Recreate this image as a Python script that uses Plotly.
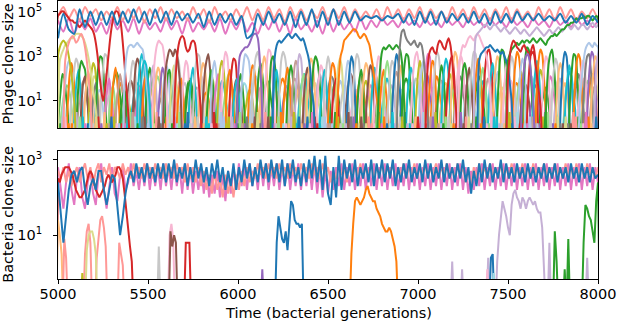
import numpy as np
import plotly.graph_objects as go

# ---------------- palette (matplotlib tab20) ----------------
PAL = ["#1f77b4", "#aec7e8", "#ff7f0e", "#ffbb78", "#2ca02c", "#98df8a",
       "#d62728", "#ff9896", "#9467bd", "#c5b0d5", "#8c564b", "#c49c94",
       "#e377c2", "#f7b6d2", "#7f7f7f", "#c7c7c7", "#bcbd22", "#dbdb8d",
       "#17becf", "#9edae5"]

# All clone sizes below are stored as 10*log10(size); sampled evenly 5000..8000
T0, T1 = 5000, 8000
STEP = 10          # sampling step (generations) for transient clones
ZERO = 1e-1        # extinct clone (log axis -> drawn below the frame)

# ---------------- phage panel: dominant clones ----------------
phage_blue = [38, 49, 42, 40, 51, 43, 50, 44, 50, 44, 50, 44, 50, 45, 51, 45, 50, 44, 51, 45,
              50, 44, 50, 46, 49, 45, 49, 43, 50, 44, 49, 45, 49, 44, 48, 38, 40, 49, 44, 50,
              45, 49, 44, 50, 43, 50, 44, 51, 43, 50, 44, 51, 44, 50, 45, 50, 46, 48, 47, 48,
              46, 48, 47, 49, 45, 49, 44, 50, 45, 50, 44, 50, 45, 49, 46, 49, 45, 50, 45, 49,
              44, 50, 45, 49, 45, 50, 46, 49, 46, 49, 46, 48, 46, 49, 45, 48, 45, 49, 44, 48, 45]
phage_salmon = [48, 52, 47, 51, 46, 52, 48, 51, 46, 50, 47, 52, 46, 51, 47, 52, 45, 51, 47, 52,
                46, 51, 47, 50, 46, 52, 47, 51, 45, 52, 47, 50, 46, 51, 47, 52, 46, 51, 46, 52,
                47, 51, 45, 52, 47, 51, 46, 50, 47, 52, 46, 51, 47, 52, 46, 51, 47, 50, 47, 51,
                46, 52, 47, 51, 46, 51, 47, 52, 46, 51, 47, 50, 46, 52, 47, 51, 46, 52, 47, 51,
                46, 51, 47, 52, 46, 51, 47, 50, 46, 52, 47, 51, 46, 52, 47, 51, 46, 50, 47, 51, 46]
phage_pink = [46, 41, 47, 40, 46, 42, 47, 41, 45, 40, 47, 42, 46, 41, 47, 40, 46, 42, 45, 41,
              47, 42, 46, 40, 47, 41, 45, 42, 46, 41, 47, 40, 46, 42, 47, 41, 45, 40, 46, 42,
              47, 41, 46, 40, 47, 42, 45, 41, 46, 40, 47, 41, 46, 42, 45, 41, 47, 42, 46, 43,
              47, 44, 46, 43, 47, 44, 46, 43, 47, 44, 46, 43, 47, 44, 46, 43, 47, 44, 46, 43,
              47, 44, 46, 43, 47, 44, 46, 43, 47, 44, 46, 43, 47, 44, 46, 43, 47, 44, 46, 43, 46]

# ---------------- phage panel: large transient clones ----------------
phage_big_start = [5000, 5010, 5000, 5040, 5370, 5530, 5590, 5650, 6000, 6200, 6550, 6780,
                   6890, 7050, 7230, 7320, 7340, 7500, 7500, 7900, 5460, 7580]
phage_big_color = [6, 17, 16, 7, 1, 13, 10, 6, 8, 0, 2, 4, 14, 6, 13, 9, 0, 4, 6, 1, 18, 8]
phage_big_vals = [
    [48, 49, 50, 50, 49, 48, 47, 46, 46, 45, 45, 44, 43, 44, 45, 46, 45, 44, 43, 42,
     40, 36, 30, 22, 15, 10, 14, 22, 30, 38, 44, 48, 50, 50, 48, 44, 36, 26, 15, 5],
    [28, 31, 33, 35, 36, 37, 38, 38, 39, 40, 40, 40, 39, 38, 36, 33, 29, 24, 18, 12, 6],
    [30, 34, 36, 37, 36, 34, 30, 25, 18, 10],
    [28, 33, 36, 38, 39, 38, 36, 37, 39, 40, 38, 34, 28, 20, 10],
    [20, 30, 34, 35, 35, 34, 35, 36, 35, 34, 33, 28, 20, 10],
    [20, 30, 35, 37, 36, 35, 30, 20],
    [15, 25, 30, 33, 32, 30, 33, 31, 25, 15],
    [15, 28, 35, 38, 39, 38, 34, 32, 33, 36, 37, 36, 30, 20, 10],
    [20, 30, 32, 33, 34, 34, 35, 37, 39, 40, 40, 38, 30, 15],
    [25, 33, 36, 37, 36, 37, 38, 39, 40, 39, 38, 39, 40, 39, 38, 37, 38, 36, 33, 30, 25, 15, 8],
    [5, 20, 30, 33, 37, 38, 39, 40, 41, 42, 42, 41, 39, 38, 39, 40, 39, 37, 35, 30, 25, 18, 12, 5],
    [10, 25, 32, 34, 33, 34, 35, 34, 33, 34, 35, 34, 33, 28, 15],
    [20, 35, 41, 42, 39, 37, 36, 35, 36, 37, 35, 34, 36, 35, 30, 20, 10],
    [20, 30, 33, 34, 32, 31, 35, 37, 36, 34, 33, 36, 38, 35, 28, 18, 8],
    [25, 32, 35, 34, 36, 38, 39, 38, 37, 39, 40, 39, 37, 35, 33, 30, 25, 15],
    [38, 40, 41, 42, 43, 44, 44, 43, 42, 43, 44, 44, 43, 42, 41, 42, 43, 42, 41, 40,
     41, 42, 43, 42, 41, 40, 41, 42, 41, 40, 39, 40, 41, 42, 43, 42, 41, 40, 39, 40,
     41, 42, 41, 40, 41, 42, 43, 42, 41, 42, 43, 44, 43, 42, 43, 44, 43, 42, 43, 44,
     44, 43, 42, 43, 44, 45, 44, 43, 44],
    [28, 31, 32, 33, 34, 34, 35, 34, 33, 32, 33, 32, 31, 32, 30, 28, 25, 18, 10],
    [28, 31, 33, 34, 35, 36, 35, 36, 37, 36, 37, 37, 36, 37, 38, 37, 36, 37, 38, 37,
     36, 35, 37, 38, 39, 39, 40, 39, 40, 41, 42, 42, 43, 44, 44, 45, 45, 46, 47, 46,
     47, 47, 48, 47, 48, 48, 47, 46, 47, 48, 47],
    [20, 30, 35, 37, 36, 34, 33, 32, 34, 35, 33, 32, 30, 31, 32, 28, 22, 15, 8],
    [10, 20, 28, 33, 35, 36, 35, 34, 36, 35, 34],
    [15, 25, 28, 26, 18, 8],
    [15, 25, 30, 31, 28, 20, 10],
]

# ---------------- phage panel: short-lived clones (tall) ----------------
spike_start = [5005, 5030, 5055, 5070, 5095, 5110, 5130, 5150, 5175, 5190, 5215, 5240, 5265,
               5285, 5300, 5325, 5350, 5395, 5420, 5445, 5470, 5490, 5510, 5535, 5560, 5580,
               5600, 5625, 5640, 5665, 5690, 5710, 5730, 5755, 5785, 5805, 5830, 5850, 5870,
               5890, 5910, 5935, 5955, 5975, 5995, 6020, 6060, 6080, 6105, 6125, 6150, 6175,
               6195, 6230, 6255, 6275, 6300, 6320, 6345, 6365, 6385, 6410, 6440, 6460, 6480,
               6505, 6525, 6545, 6590, 6610, 6640, 6665, 6690, 6715, 6740, 6760, 6790, 6810,
               6835, 6860, 6885, 6915, 6940, 6965, 6990, 7010, 7035, 7060, 7085, 7110, 7135,
               7160, 7185, 7210, 7240, 7265, 7290, 7315, 7340, 7365, 7395, 7420, 7445, 7475,
               7500, 7530, 7560, 7585, 7610, 7640, 7660, 7690, 7715, 7745, 7770, 7795, 7820,
               7845, 7870, 7895, 7920, 7945, 7965, 7985]
spike_color = [4, 1, 2, 15, 18, 4, 10, 3, 16, 14, 4, 15, 12, 5, 2, 11, 4, 15, 10, 18, 2, 4, 9,
               3, 8, 1, 4, 17, 15, 2, 13, 4, 18, 15, 3, 10, 4, 1, 12, 16, 13, 2, 6, 18, 4, 1, 2,
               15, 4, 3, 13, 4, 18, 15, 2, 4, 11, 9, 5, 10, 3, 4, 13, 18, 15, 2, 6, 17, 1, 0,
               15, 4, 3, 10, 18, 13, 2, 5, 15, 0, 3, 4, 18, 13, 16, 1, 12, 2, 15, 4, 18, 6, 3,
               13, 4, 10, 15, 2, 5, 6, 18, 3, 4, 13, 15, 2, 1, 4, 6, 18, 2, 13, 4, 15, 3, 0, 18,
               4, 2, 13, 14, 8, 3, 9]
spike_vals = [
    [5, 15, 22, 20, 12, 4], [8, 18, 25, 28, 26, 20, 10], [10, 22, 27, 22, 10],
    [6, 16, 24, 29, 27, 18, 6], [10, 20, 24, 15, 5], [12, 24, 28, 26, 24, 14, 4],
    [8, 18, 21, 13, 3], [10, 19, 23, 17, 8], [10, 22, 27, 25, 16, 6], [6, 14, 18, 10],
    [15, 26, 30, 29, 18, 5], [12, 24, 31, 30, 22, 10], [8, 16, 20, 12, 4], [6, 13, 17, 11],
    [10, 20, 25, 18, 6], [8, 16, 22, 17, 7], [6, 12, 15, 8], [10, 22, 28, 26, 16, 5],
    [12, 24, 29, 27, 20, 8], [15, 26, 31, 28, 15], [8, 18, 22, 14], [10, 20, 25, 20, 9],
    [12, 22, 26, 20, 8], [10, 20, 25, 23, 12], [8, 18, 25, 22, 10], [10, 20, 26, 24, 14],
    [12, 22, 24, 15, 5], [10, 22, 26, 20, 8], [12, 24, 30, 28, 20, 8], [8, 16, 20, 12],
    [10, 22, 28, 26, 14], [6, 14, 19, 15, 6], [10, 20, 25, 18, 6], [14, 26, 31, 30, 22, 10],
    [12, 22, 27, 25, 16, 6], [10, 22, 28, 31, 24, 10], [8, 18, 24, 18, 6], [12, 24, 28, 22, 10],
    [10, 18, 22, 15, 4], [12, 24, 28, 24, 12], [14, 26, 32, 30, 20, 8], [10, 20, 24, 18, 8],
    [12, 24, 29, 28, 18, 6], [8, 16, 20, 12], [10, 18, 22, 16, 6], [15, 26, 31, 30, 28, 20, 8],
    [10, 20, 26, 24, 14, 4], [12, 24, 30, 32, 26, 14], [10, 22, 27, 22, 10],
    [12, 24, 30, 27, 16, 5], [14, 26, 33, 32, 22, 10], [16, 28, 30, 26, 12], [10, 20, 24, 16, 6],
    [14, 28, 32, 30, 24, 10], [10, 20, 25, 20, 8], [12, 22, 26, 20, 8], [10, 22, 28, 26, 14],
    [12, 24, 31, 29, 18, 6], [8, 18, 22, 14], [10, 20, 25, 20, 8], [12, 24, 29, 27, 16, 5],
    [14, 26, 30, 28, 22, 10], [10, 20, 26, 24, 12], [8, 18, 24, 18, 6], [12, 24, 30, 26, 12],
    [10, 22, 27, 25, 14], [8, 16, 20, 12], [12, 24, 29, 26, 14], [10, 22, 28, 26, 14],
    [12, 24, 30, 27, 12], [14, 26, 31, 29, 18], [10, 20, 24, 16], [12, 22, 27, 25, 16, 6],
    [10, 20, 26, 24, 10], [8, 20, 25, 18, 6], [12, 24, 30, 28, 18, 6], [10, 20, 24, 16, 6],
    [12, 24, 28, 22, 10], [10, 22, 28, 26, 14], [12, 24, 31, 28, 14], [10, 20, 26, 20, 8],
    [14, 26, 31, 30, 20, 6], [10, 20, 25, 22, 10], [12, 24, 30, 32, 26, 12], [10, 22, 28, 24, 12],
    [12, 24, 28, 22, 10], [14, 26, 31, 30, 18, 6], [10, 22, 28, 26, 12], [12, 26, 32, 30, 20, 8],
    [10, 20, 26, 22, 10], [12, 24, 29, 26, 14], [10, 20, 28, 30, 22, 8], [14, 26, 32, 30, 20],
    [10, 22, 28, 30, 26, 12], [12, 24, 27, 22, 8], [10, 20, 25, 18, 6], [14, 26, 32, 31, 22, 10],
    [12, 24, 29, 24, 10], [10, 20, 25, 20, 8], [14, 26, 32, 33, 28, 14], [10, 22, 27, 20, 8],
    [12, 24, 30, 28, 16], [14, 28, 33, 32, 26, 12], [10, 22, 28, 24, 10], [12, 24, 30, 27, 14],
    [14, 26, 32, 30, 22, 8], [12, 24, 29, 26, 12], [14, 28, 34, 33, 24, 10],
    [12, 26, 33, 35, 30, 16], [10, 22, 28, 24, 10], [14, 28, 33, 31, 20, 6], [12, 24, 30, 28, 14],
    [14, 26, 31, 33, 26, 12], [12, 24, 29, 26, 12], [10, 22, 27, 24, 10], [12, 26, 32, 30, 18],
    [10, 20, 26, 22, 10], [12, 24, 31, 30, 20, 6], [14, 26, 31, 29, 16], [10, 22, 28, 26, 12],
    [12, 24, 30, 31, 24, 10], [14, 26, 32, 30, 20], [12, 24, 30, 28, 16, 6], [16, 28, 33],
]

# ---------------- phage panel: short-lived clones (low) ----------------
low_start = [5018, 5047, 5083, 5112, 5141, 5170, 5203, 5232, 5262, 5293, 5318, 5344, 5376, 5408,
             5433, 5462, 5497, 5523, 5551, 5587, 5613, 5647, 5676, 5703, 5738, 5767, 5796, 5822,
             5856, 5881, 5917, 5944, 5968, 6003, 6035, 6068, 6097, 6133, 6160, 6188, 6218, 6246,
             6283, 6311, 6337, 6372, 6398, 6425, 6453, 6487, 6514, 6538, 6567, 6598, 6626, 6653,
             6681, 6707, 6733, 6768, 6797, 6823, 6851, 6877, 6904, 6932, 6957, 6982, 7018, 7047,
             7073, 7101, 7122, 7148, 7177, 7203, 7228, 7256, 7283, 7308, 7333, 7358, 7387, 7413,
             7438, 7462, 7488, 7516, 7543, 7571, 7598, 7623, 7651, 7678, 7705, 7733, 7758, 7787,
             7813, 7838, 7862, 7888, 7912, 7938, 7958, 7980]
low_color = [5, 19, 3, 11, 9, 17, 1, 13, 15, 4, 2, 16, 10, 18, 12, 8, 3, 5, 14, 19,
             1, 7, 15, 4, 11, 13, 2, 17, 9, 18, 5, 3, 10, 19, 16, 1, 12, 4, 15, 13,
             2, 8, 11, 3, 18, 5, 17, 9, 19, 14, 4, 1, 15, 10, 13, 2, 16, 12, 3, 5,
             18, 9, 11, 19, 4, 17, 15, 1, 8, 13, 2, 10, 3, 16, 5, 14, 12, 19, 9, 4,
             18, 11, 15, 1, 17, 3, 13, 2, 5, 10, 19, 8, 16, 4, 12, 15, 9, 3, 18, 1,
             14, 13, 5, 2, 11, 17]
low_vals = [
    [4, 10, 15, 17, 16, 12, 5], [6, 12, 18, 20, 17, 9], [3, 9, 13, 15, 12, 6],
    [5, 12, 17, 19, 18, 14, 7], [6, 13, 16, 14, 8], [4, 11, 17, 21, 20, 15, 8],
    [5, 10, 14, 15, 11, 4], [6, 14, 19, 22, 19, 12], [4, 9, 12, 13, 10, 5],
    [7, 15, 20, 23, 21, 14, 6], [5, 11, 16, 18, 15, 8], [3, 8, 12, 14, 13, 9, 4],
    [6, 13, 18, 19, 16, 10], [4, 10, 15, 18, 17, 12, 6], [5, 12, 16, 15, 9],
    [6, 14, 20, 22, 18, 11, 4], [4, 9, 13, 16, 14, 8], [5, 12, 18, 21, 19, 13, 6],
    [3, 8, 11, 12, 9, 4], [6, 13, 19, 23, 20, 14, 7], [5, 11, 15, 17, 14, 8],
    [4, 10, 16, 19, 18, 12, 5], [6, 12, 17, 18, 13, 6], [5, 13, 18, 20, 17, 11, 4],
    [4, 9, 14, 16, 15, 10, 5], [6, 14, 19, 21, 18, 10], [3, 9, 13, 14, 11, 6],
    [5, 12, 17, 20, 19, 14, 7], [6, 13, 16, 15, 10, 4], [4, 11, 16, 19, 17, 11, 5],
    [5, 12, 18, 22, 20, 13, 6], [4, 10, 14, 15, 12, 6], [6, 14, 19, 20, 16, 9],
    [5, 11, 16, 18, 17, 12, 5], [3, 8, 13, 15, 13, 7], [6, 13, 18, 21, 19, 12, 5],
    [4, 10, 15, 16, 12, 6], [5, 12, 17, 19, 17, 11, 4], [6, 14, 20, 23, 21, 14, 6],
    [4, 9, 13, 14, 10, 4], [5, 13, 18, 20, 18, 12, 5], [6, 12, 16, 17, 14, 8],
    [4, 11, 17, 20, 19, 13, 6], [5, 10, 14, 16, 13, 7], [6, 14, 19, 22, 20, 12, 5],
    [3, 9, 14, 16, 14, 8], [5, 12, 17, 18, 15, 9, 4], [6, 13, 19, 22, 19, 11],
    [4, 10, 14, 15, 12, 6], [5, 12, 18, 21, 20, 14, 6], [6, 13, 17, 18, 14, 7],
    [4, 11, 16, 19, 17, 10, 4], [5, 12, 16, 17, 13, 6], [6, 14, 20, 22, 19, 12, 5],
    [4, 9, 13, 15, 13, 8], [5, 13, 18, 21, 18, 11, 4], [6, 12, 17, 19, 16, 9],
    [4, 10, 15, 17, 15, 9, 4], [5, 13, 19, 22, 20, 13], [6, 12, 16, 16, 12, 6],
    [4, 11, 17, 20, 18, 12, 5], [5, 10, 15, 17, 14, 7], [6, 14, 20, 23, 20, 13, 6],
    [3, 9, 13, 15, 12, 6], [5, 12, 18, 20, 18, 12, 5], [6, 13, 17, 18, 15, 8],
    [4, 11, 16, 20, 19, 13, 6], [5, 12, 16, 17, 12, 5], [6, 14, 19, 22, 20, 13, 5],
    [4, 10, 14, 16, 14, 8], [5, 13, 18, 21, 19, 12, 4], [6, 12, 17, 19, 15, 8],
    [4, 10, 15, 18, 17, 11, 5], [5, 13, 19, 22, 19, 12], [6, 12, 15, 16, 12, 6],
    [4, 11, 17, 21, 19, 13, 6], [5, 10, 14, 17, 15, 8], [6, 14, 20, 23, 21, 14, 6],
    [3, 9, 14, 15, 12, 6], [5, 12, 18, 21, 19, 12, 5], [6, 13, 17, 19, 16, 9],
    [4, 11, 16, 20, 18, 12, 5], [5, 12, 17, 18, 13, 6], [6, 14, 19, 23, 21, 14, 6],
    [4, 10, 14, 16, 14, 8], [5, 13, 18, 22, 20, 13, 5], [6, 12, 17, 19, 15, 7],
    [4, 10, 15, 18, 17, 11, 4], [5, 13, 19, 23, 20, 12], [6, 12, 16, 17, 13, 6],
    [4, 11, 17, 21, 20, 14, 6], [5, 10, 15, 17, 15, 8], [6, 14, 20, 24, 21, 14, 6],
    [3, 9, 13, 16, 13, 7], [5, 12, 18, 21, 19, 13, 5], [6, 13, 17, 19, 16, 8],
    [4, 11, 17, 20, 18, 12, 5], [5, 12, 16, 18, 14, 6], [6, 14, 20, 23, 21, 13, 6],
    [4, 10, 15, 17, 14, 8], [5, 13, 18, 22, 19, 12, 4], [6, 12, 17, 20, 16, 9],
    [4, 10, 16, 19, 17, 11, 5], [5, 13, 19, 22, 20, 13], [6, 12, 16, 17, 12, 6],
    [4, 11, 16, 20, 18], [5, 12, 17, 19],
]

# single-sample clones of size 1-3 (the coloured band at the bottom)
blip_t = [5012, 5041, 5077, 5103, 5138, 5166, 5197, 5224, 5258, 5281, 5312, 5339, 5371, 5402,
          5428, 5457, 5483, 5516, 5548, 5571, 5603, 5634, 5662, 5689, 5721, 5748, 5776, 5809,
          5838, 5867, 5893, 5921, 5949, 5982, 6011, 6037, 6064, 6093, 6124, 6152, 6183, 6211,
          6238, 6266, 6297, 6325, 6353, 6386, 6412, 6441, 6468, 6497, 6523, 6556, 6583, 6614,
          6642, 6671, 6698, 6727, 6756, 6783, 6812, 6843, 6872, 6898, 6927, 6954, 6986, 7013,
          7042, 7069, 7097, 7128, 7154, 7183, 7212, 7238, 7267, 7296, 7324, 7351, 7382, 7409,
          7437, 7466, 7494, 7521, 7552, 7579, 7607, 7636, 7664, 7693, 7722, 7750, 7777, 7806,
          7834, 7863, 7891, 7918, 7947, 7976,
          5026, 5059, 5090, 5121, 5152, 5181, 5211, 5241, 5270, 5297, 5326, 5355, 5387, 5415,
          5443, 5470, 5500, 5532, 5560, 5588, 5618, 5648, 5676, 5705, 5735, 5762, 5793, 5824,
          5853, 5880, 5907, 5935, 5966, 5997, 6024, 6050, 6079, 6109, 6138, 6168, 6197, 6225,
          6252, 6282, 6311, 6339, 6370, 6399, 6427, 6455, 6483, 6510, 6540, 6570, 6599, 6628,
          6657, 6685, 6712, 6742, 6770, 6798, 6828, 6858, 6885, 6913, 6941, 6970, 7000, 7028,
          7056, 7083, 7113, 7141, 7169, 7198, 7225, 7253, 7282, 7310, 7338, 7367, 7396, 7423,
          7452, 7480, 7508, 7537, 7566, 7593, 7622, 7650, 7679, 7708, 7736, 7764, 7792, 7820,
          7849, 7877, 7905, 7933, 7962, 7990]
blip_c = [4, 13, 2, 9, 18, 0, 15, 6, 3, 11, 16, 1, 12, 5, 19, 8, 10, 17, 7, 14,
          2, 4, 19, 13, 0, 9, 15, 3, 18, 6, 11, 1, 16, 12, 5, 8, 17, 10, 14, 7,
          4, 15, 2, 13, 9, 18, 3, 0, 12, 6, 19, 11, 1, 16, 5, 10, 8, 17, 14, 7,
          13, 4, 2, 19, 9, 15, 0, 18, 3, 12, 6, 11, 16, 1, 5, 17, 10, 8, 7, 14,
          4, 2, 13, 9, 18, 15, 3, 0, 19, 6, 12, 11, 1, 16, 5, 8, 17, 10, 14, 7,
          4, 13, 2, 9,
          9, 2, 15, 5, 12, 19, 3, 8, 16, 0, 13, 6, 18, 11, 4, 14, 1, 17, 10, 7,
          19, 12, 5, 0, 15, 3, 8, 18, 13, 6, 1, 16, 9, 4, 11, 14, 2, 17, 7, 10,
          12, 5, 19, 3, 16, 0, 8, 13, 6, 18, 1, 11, 4, 15, 9, 14, 2, 10, 17, 7,
          5, 12, 0, 18, 3, 16, 9, 13, 6, 1, 19, 8, 11, 4, 15, 2, 14, 10, 17, 7,
          12, 0, 5, 18, 9, 3, 16, 13, 6, 19, 1, 11, 8, 4, 15, 2, 14, 17, 10, 7,
          5, 12, 3, 0]
blip_h = [0, 3, 0, 5, 3, 0, 0, 3, 5, 0, 3, 0, 0, 5, 3, 0, 3, 0, 5, 0,
          3, 0, 0, 3, 5, 0, 3, 0, 0, 5, 0, 3, 3, 0, 5, 0, 0, 3, 0, 5,
          3, 0, 5, 0, 3, 0, 0, 3, 5, 0, 3, 0, 0, 3, 0, 5, 3, 0, 0, 3,
          0, 5, 3, 0, 0, 3, 5, 0, 3, 0, 0, 3, 5, 0, 3, 0, 0, 5, 3, 0,
          3, 0, 0, 5, 3, 0, 3, 0, 5, 0, 0, 3, 0, 3, 5, 0, 3, 0, 0, 5,
          3, 0, 3, 0,
          3, 0, 0, 3, 0, 5, 3, 0, 0, 3, 0, 0, 3, 5, 0, 3, 0, 0, 3, 0,
          0, 3, 5, 0, 0, 3, 0, 3, 0, 0, 5, 0, 3, 0, 0, 3, 0, 5, 0, 3,
          0, 3, 0, 0, 5, 3, 0, 0, 3, 0, 3, 0, 5, 0, 0, 3, 0, 3, 0, 0,
          3, 0, 0, 5, 0, 3, 0, 0, 3, 5, 0, 3, 0, 0, 3, 0, 5, 0, 3, 0,
          0, 3, 0, 3, 0, 0, 5, 3, 0, 0, 3, 0, 0, 5, 3, 0, 0, 3, 0, 3,
          0, 5, 0, 3]

# ---------------- bacteria panel ----------------
bact_blue = [24, 16, 8, 15, 22, 26, 27, 24, 27, 28, 22, 18, 23, 25, 22, 27, 27, 22, 18, 22,
             26, 25, 17, 10, 15, 21, 25, 27, 24, 29, 25, 28, 24, 29, 25, 28, 24, 29, 25, 29,
             24, 29, 25, 30, 24, 28, 25, 29, 23, 28, 24, 30, 25, 29, 24, 28, 23, 29, 25, 30,
             24, 28, 22, 27, 23, 29, 22, 28, 24, 30, 25, 29, 23, 28, 24, 30, 25, 29, 24, 30,
             25, 29, 24, 30, 23, 29, 25, 30, 24, 28, 23, 29, 24, 30, 25, 31, 24, 30, 22, 31,
             21, 18, 28, 20, 31, 22, 30, 25, 29, 24, 30, 23, 28, 25, 29, 24, 30, 23, 29, 25,
             30, 24, 29, 25, 30, 23, 28, 24, 29, 25, 30, 24, 28, 25, 29, 24, 30, 25, 29, 24,
             28, 25, 30, 24, 29, 25, 28, 24, 29, 25, 30, 24, 28, 21, 27, 23, 29, 24, 30, 25,
             29, 24, 28, 25, 30, 24, 29, 25, 28, 24, 29, 25, 28, 24, 29, 25, 28, 24, 28, 25,
             29, 24, 28, 25, 29, 24, 28, 25, 28, 24, 29, 25, 28, 24, 29, 25, 28, 24, 28, 25, 26]
bact_salmon = [27, 25, 28, 24, 27, 23, 26, 28, 24, 27, 29, 25, 28, 23, 27, 29, 24, 28, 26, 29,
               24, 28, 27, 25, 29, 26, 28, 25, 29, 26, 28, 25, 29, 26, 28, 25, 29, 26, 28, 25,
               29, 26, 28, 25, 29, 26, 28, 24, 29, 25, 28, 24, 28, 23, 27, 22, 26, 21, 27, 22,
               25, 20, 26, 21, 25, 20, 26, 22, 27, 23, 28, 24, 27, 25, 29, 26, 28, 25, 29, 26,
               28, 25, 29, 26, 28, 25, 29, 26, 28, 25, 29, 26, 28, 25, 29, 26, 28, 25, 29, 26,
               28, 24, 27, 25, 29, 26, 28, 24, 29, 25, 28, 26, 29, 25, 28, 26, 29, 25, 28, 26,
               29, 25, 28, 26, 29, 25, 28, 26, 29, 25, 28, 26, 29, 25, 28, 26, 29, 25, 28, 26,
               29, 25, 28, 26, 29, 25, 28, 25, 29, 26, 28, 24, 27, 23, 28, 25, 29, 26, 28, 25,
               29, 26, 28, 25, 29, 26, 28, 25, 29, 26, 28, 25, 29, 26, 28, 25, 29, 26, 28, 25,
               29, 26, 28, 25, 29, 26, 28, 25, 29, 26, 28, 25, 29, 26, 28, 25, 29, 26, 28, 25, 28]
bact_pink = [28, 22, 17, 24, 29, 22, 18, 25, 28, 20, 17, 24, 27, 21, 18, 26, 29, 22, 17, 23,
             28, 21, 19, 26, 28, 22, 24, 29, 23, 27, 22, 28, 23, 29, 22, 28, 23, 28, 22, 29,
             23, 28, 22, 29, 23, 28, 21, 29, 22, 28, 21, 27, 22, 28, 21, 27, 20, 26, 21, 27,
             20, 26, 19, 27, 21, 28, 22, 29, 23, 28, 22, 29, 23, 28, 22, 29, 23, 29, 22, 28,
             23, 29, 22, 28, 23, 29, 22, 28, 23, 29, 22, 28, 23, 29, 22, 29, 21, 28, 20, 27,
             21, 27, 22, 28, 23, 29, 22, 28, 23, 29, 22, 28, 23, 29, 22, 28, 23, 29, 22, 28,
             23, 29, 22, 28, 23, 29, 22, 28, 23, 29, 22, 28, 23, 29, 22, 28, 23, 29, 22, 28,
             23, 29, 22, 28, 23, 29, 22, 28, 23, 29, 22, 28, 21, 27, 22, 28, 23, 29, 22, 28,
             23, 29, 22, 28, 23, 29, 22, 28, 23, 29, 22, 28, 23, 29, 22, 28, 23, 29, 22, 28,
             23, 29, 22, 28, 23, 29, 22, 28, 23, 29, 22, 28, 23, 29, 22, 28, 23, 29, 22, 28, 24]

bact_burst_start = [5000, 5000, 5035, 5150, 5215, 5160, 5135, 5340, 5560, 5620, 5625, 5710,
                    6135, 6215, 6630, 7190, 7245, 7390, 7440, 7730, 7940, 7405, 7385, 7420,
                    7760, 7815, 7835, 7920]
bact_burst_color = [6, 3, 7, 7, 7, 17, 16, 7, 15, 13, 10, 6, 8, 0, 2, 9, 9, 9, 9, 9, 9, 0,
                    13, 19, 4, 4, 4, 4]
bact_burst_vals = [
    [25, 24, 26, 27, 28, 28, 28, 27, 26, 24, 22, 21, 20, 20, 21, 22, 24, 26, 27, 26, 24, 22,
     21, 20, 21, 22, 23, 25, 26, 25, 24, 25, 26, 28, 28, 27, 25, 21, 16, 10, 7, 3],
    [14, 10, 5], [9, 4], [5, 11, 13, 8], [4, 9, 14, 15, 12, 7], [6, 10, 11, 11, 9, 5], [0],
    [8, 5, 2], [7], [10, 13, 9], [11, 7, 10, 8], [8, 8, 8], [1],
    [8, 15, 12, 9, 8, 11, 6, 14, 19, 18, 14, 13, 13, 12, 13],
    [5, 13, 19, 20, 19, 18, 19, 20, 22, 23, 21, 20, 19, 19, 17, 16, 15, 13, 12, 11, 11, 12,
     11, 9, 7, 3],
    [3], [1], [4],
    [3, 10, 14, 19, 17, 15, 12, 10, 18, 21, 22, 20, 19, 17, 20, 19, 17, 19, 20, 19, 18, 19,
     17, 16, 16, 12, 5],
    [8], [4], [4, 5], [1], [0], [11, 3], [1], [9], [8, 18, 17, 15, 14, 11, 8, 19, 24],
]

X_TICKS = [5000, 5500, 6000, 6500, 7000, 7500, 8000]
Y1_TICKS = [10, 1000, 100000]
Y1_TEXT = ["10<sup>1</sup>", "10<sup>3</sup>", "10<sup>5</sup>"]
Y2_TICKS = [10, 1000]
Y2_TEXT = ["10<sup>1</sup>", "10<sup>3</sup>"]

# ---------------- build ----------------
fig = go.Figure()


def size(v):
    return 10 ** (np.asarray(v, dtype=float) / 10.0)


def add(x, y, color, row, smooth=True):
    fig.add_trace(go.Scatter(
        x=x, y=y, mode="lines",
        line=dict(color=color, width=2, shape="spline" if smooth else "linear",
                  smoothing=0.7),
        xaxis="x" if row == 1 else "x2", yaxis="y" if row == 1 else "y2",
        hoverinfo="skip", showlegend=False))


def add_series(vals, c, row, smooth=True):
    add(np.linspace(T0, T1, len(vals)), size(vals), PAL[c], row, smooth)


def add_burst(start, c, vals, row, smooth=True):
    n = len(vals)
    x = start + STEP * np.arange(-1, n + 1)
    y = np.concatenate([[ZERO], size(vals), [ZERO]])
    add(x, y, PAL[c], row, smooth)


# phage panel
add_series(phage_pink, 12, 1)
add_series(phage_salmon, 7, 1)
for s, c, v in zip(low_start, low_color, low_vals):
    add_burst(s, c, v, 1)
for s, c, v in zip(spike_start, spike_color, spike_vals):
    add_burst(s, c, v, 1)
for s, c, h in zip(blip_t, blip_c, blip_h):
    add_burst(s, c, [h], 1, smooth=False)
for s, c, v in zip(phage_big_start, phage_big_color, phage_big_vals):
    add_burst(s, c, v, 1)
add_series(phage_blue, 0, 1)

# bacteria panel
add_series(bact_pink, 12, 2, smooth=False)
add_series(bact_salmon, 7, 2, smooth=False)
for s, c, v in zip(bact_burst_start, bact_burst_color, bact_burst_vals):
    add_burst(s, c, v, 2, smooth=False)
add_series(bact_blue, 0, 2, smooth=False)

FONT = dict(family="DejaVu Sans", size=14.5, color="black")
axis_common = dict(showline=True, mirror=True, linecolor="black", linewidth=1,
                   showgrid=False, zeroline=False, automargin=False)

Y1_DOM = [0.5432, 1.0]
Y2_DOM = [0.0, 0.4622]

fig.update_layout(
    template="none",
    width=617, height=325,
    margin=dict(l=58, r=19, t=1, b=46, pad=0),
    paper_bgcolor="white", plot_bgcolor="white",
    font=FONT, showlegend=False,
    xaxis=dict(domain=[0, 1], anchor="y", range=[T0, T1], showticklabels=False,
               ticks="", **axis_common),
    yaxis=dict(domain=Y1_DOM, anchor="x", type="log", range=[-0.21, 5.47],
               tickvals=Y1_TICKS, ticktext=Y1_TEXT, ticks="outside", ticklen=4,
               tickwidth=1, tickcolor="black", ticklabelstandoff=8, **axis_common),
    xaxis2=dict(domain=[0, 1], anchor="y2", range=[T0, T1], tickvals=X_TICKS,
                ticks="outside", ticklen=4, tickwidth=1, tickcolor="black",
                ticklabelstandoff=-2, **axis_common),
    yaxis2=dict(domain=Y2_DOM, anchor="x2", type="log", range=[-0.16, 3.24],
                tickvals=Y2_TICKS, ticktext=Y2_TEXT, ticks="outside", ticklen=4,
                tickwidth=1, tickcolor="black", ticklabelstandoff=8, **axis_common),
    annotations=[
        dict(text="Phage clone size", xref="paper", yref="paper", x=0,
             y=sum(Y1_DOM) / 2, xshift=-50, textangle=-90, showarrow=False,
             xanchor="center", yanchor="middle", font=FONT),
        dict(text="Bacteria clone size", xref="paper", yref="paper", x=0,
             y=sum(Y2_DOM) / 2, xshift=-50, textangle=-90, showarrow=False,
             xanchor="center", yanchor="middle", font=FONT),
        dict(text="Time (bacterial generations)", xref="paper", yref="paper", x=0.5,
             y=0, yshift=-34, showarrow=False, xanchor="center", yanchor="middle",
             font=FONT),
    ],
)

fig.write_html("out.html", config={"displayModeBar": False},
               post_script="document.body.style.margin='0';document.body.style.overflow='hidden';")
